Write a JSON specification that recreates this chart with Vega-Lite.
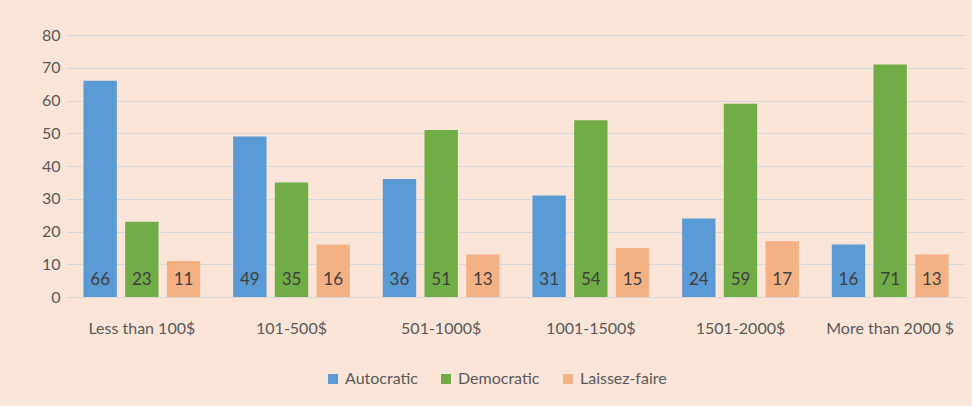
{
  "$schema": "https://vega.github.io/schema/vega-lite/v6.json",
  "width": 898,
  "height": 262,
  "autosize": {"type": "none"},
  "padding": {"left": 67, "top": 35, "right": 7, "bottom": 109},
  "background": "#FAE5D8",
  "config": {
    "view": {"stroke": null},
    "font": "Lato",
    "axis": {"labelFont": "Lato", "labelColor": "#595959", "labelFontSize": 16}
  },
  "data": {
    "values": [
      {"income": "Less than 100$", "style": "Autocratic", "value": 66},
      {"income": "Less than 100$", "style": "Democratic", "value": 23},
      {"income": "Less than 100$", "style": "Laissez-faire", "value": 11},
      {"income": "101-500$", "style": "Autocratic", "value": 49},
      {"income": "101-500$", "style": "Democratic", "value": 35},
      {"income": "101-500$", "style": "Laissez-faire", "value": 16},
      {"income": "501-1000$", "style": "Autocratic", "value": 36},
      {"income": "501-1000$", "style": "Democratic", "value": 51},
      {"income": "501-1000$", "style": "Laissez-faire", "value": 13},
      {"income": "1001-1500$", "style": "Autocratic", "value": 31},
      {"income": "1001-1500$", "style": "Democratic", "value": 54},
      {"income": "1001-1500$", "style": "Laissez-faire", "value": 15},
      {"income": "1501-2000$", "style": "Autocratic", "value": 24},
      {"income": "1501-2000$", "style": "Democratic", "value": 59},
      {"income": "1501-2000$", "style": "Laissez-faire", "value": 17},
      {"income": "More than 2000 $", "style": "Autocratic", "value": 16},
      {"income": "More than 2000 $", "style": "Democratic", "value": 71},
      {"income": "More than 2000 $", "style": "Laissez-faire", "value": 13}
    ]
  },
  "encoding": {
    "x": {
      "field": "income", "type": "nominal", "sort": null, "title": null,
      "scale": {"paddingInner": 0.22, "paddingOuter": 0.11},
      "axis": {"labelAngle": 0, "ticks": false, "domainColor": "#D9D9D9", "labelPadding": 23, "grid": false}
    },
    "xOffset": {
      "field": "style", "type": "nominal", "sort": null,
      "scale": {"paddingInner": 0.2, "paddingOuter": 0}
    }
  },
  "layer": [
    {
      "mark": {"type": "bar"},
      "encoding": {
        "y": {
          "field": "value", "type": "quantitative", "title": null,
          "scale": {"domain": [0, 80]},
          "axis": {"values": [0, 10, 20, 30, 40, 50, 60, 70, 80], "labelOverlap": false, "domain": false, "ticks": false, "gridColor": "#D3D9DE", "labelPadding": 7}
        },
        "color": {
          "field": "style", "type": "nominal", "title": null,
          "scale": {"domain": ["Autocratic", "Democratic", "Laissez-faire"], "range": ["#5B9BD5", "#70AD47", "#F4B183"]},
          "legend": {
            "orient": "none", "legendX": 258, "legendY": 336, "direction": "horizontal",
            "symbolType": "square", "symbolStrokeWidth": 0, "symbolSize": 100,
            "labelFontSize": 16, "labelColor": "#595959", "labelFont": "Lato", "columnPadding": 20
          }
        }
      }
    },
    {
      "mark": {"type": "text", "fontSize": 17, "color": "#404040", "baseline": "middle", "dy": -17},
      "encoding": {
        "y": {
          "datum": 0, "type": "quantitative", "title": null,
          "axis": {"values": [0, 10, 20, 30, 40, 50, 60, 70, 80], "labelOverlap": false, "domain": false, "ticks": false, "gridColor": "#D3D9DE", "labelPadding": 7}
        },
        "text": {"field": "value", "type": "quantitative"}
      }
    }
  ]
}
